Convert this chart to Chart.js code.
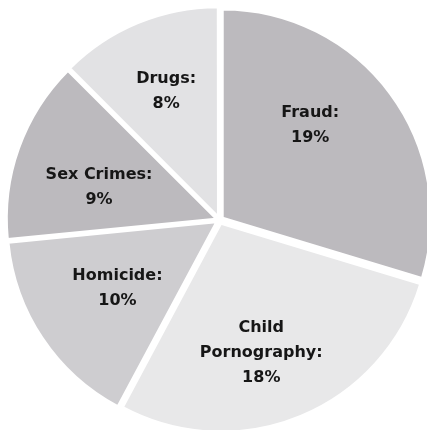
<!DOCTYPE html>
<html>
<head>
<meta charset="utf-8">
<script src="https://cdn.jsdelivr.net/npm/chart.js@4/dist/chart.umd.min.js"></script>
<style>
  html, body { margin: 0; padding: 0; background: #ffffff; overflow: hidden; }
  #wrap { width: 427px; height: 430px; position: relative; }
</style>
</head>
<body>
<div id="wrap"><canvas id="pie"></canvas></div>
<script>
// Crime categories and their share (percent)
const categories = ["Fraud", "Child Pornography", "Homicide", "Sex Crimes", "Drugs"];
const shares = [19, 18, 10, 9, 8];

// Slice styling
const sliceColors = ["#bcbabe", "#e8e8e9", "#cecdd0", "#bcbabe", "#e2e2e4"];
// Where each label sits inside its slice: fraction along the arc, fraction of radius
const labelAlong = [0.41, 0.55, 0.50, 0.41, 0.50];
const labelRadial = [0.63, 0.67, 0.59, 0.60, 0.67];

const labelFont = 'bold 16px "DejaVu Sans", sans-serif';

// Wrap a label into lines no wider than maxW
function wrapText(ctx, text, maxW) {
  const words = text.split(" ");
  const lines = [];
  let cur = "";
  for (const w of words) {
    const test = cur ? cur + " " + w : w;
    if (cur && ctx.measureText(test).width > maxW) {
      lines.push(cur);
      cur = w;
    } else {
      cur = test;
    }
  }
  if (cur) lines.push(cur);
  return lines;
}

// Draws "Name:\nNN%" inside each slice
const sliceLabels = {
  id: "sliceLabels",
  afterDatasetsDraw(chart) {
    const ctx = chart.ctx;
    const meta = chart.getDatasetMeta(0);
    ctx.save();
    ctx.font = labelFont;
    ctx.fillStyle = "#161616";
    ctx.textAlign = "center";
    ctx.textBaseline = "middle";
    const lineH = 25;
    meta.data.forEach((arc, i) => {
      const p = arc.getProps(["x", "y", "startAngle", "endAngle", "outerRadius"], true);
      const a = p.startAngle + (p.endAngle - p.startAngle) * labelAlong[i];
      const r = p.outerRadius * labelRadial[i];
      const cx = p.x + Math.cos(a) * r;
      const cy = p.y + Math.sin(a) * r;
      const lines = wrapText(ctx, categories[i] + ":", 140);
      lines.push(shares[i] + "%");
      const top = cy - (lines.length - 1) * lineH / 2;
      lines.forEach((ln, k) => ctx.fillText(ln, cx, top + k * lineH));
    });
    ctx.restore();
  }
};

new Chart(document.getElementById("pie"), {
  type: "pie",
  data: {
    labels: categories,
    datasets: [{
      data: shares,
      backgroundColor: sliceColors,
      borderColor: "#ffffff",
      borderWidth: 2,
      offset: 16,
      hoverOffset: 0,
      radius: 208
    }]
  },
  options: {
    responsive: true,
    maintainAspectRatio: false,
    animation: false,
    layout: { padding: { left: 12, top: 10, right: 0, bottom: 0 } },
    plugins: {
      legend: { display: false },
      tooltip: { enabled: false }
    }
  },
  plugins: [sliceLabels]
});
</script>
</body>
</html>
